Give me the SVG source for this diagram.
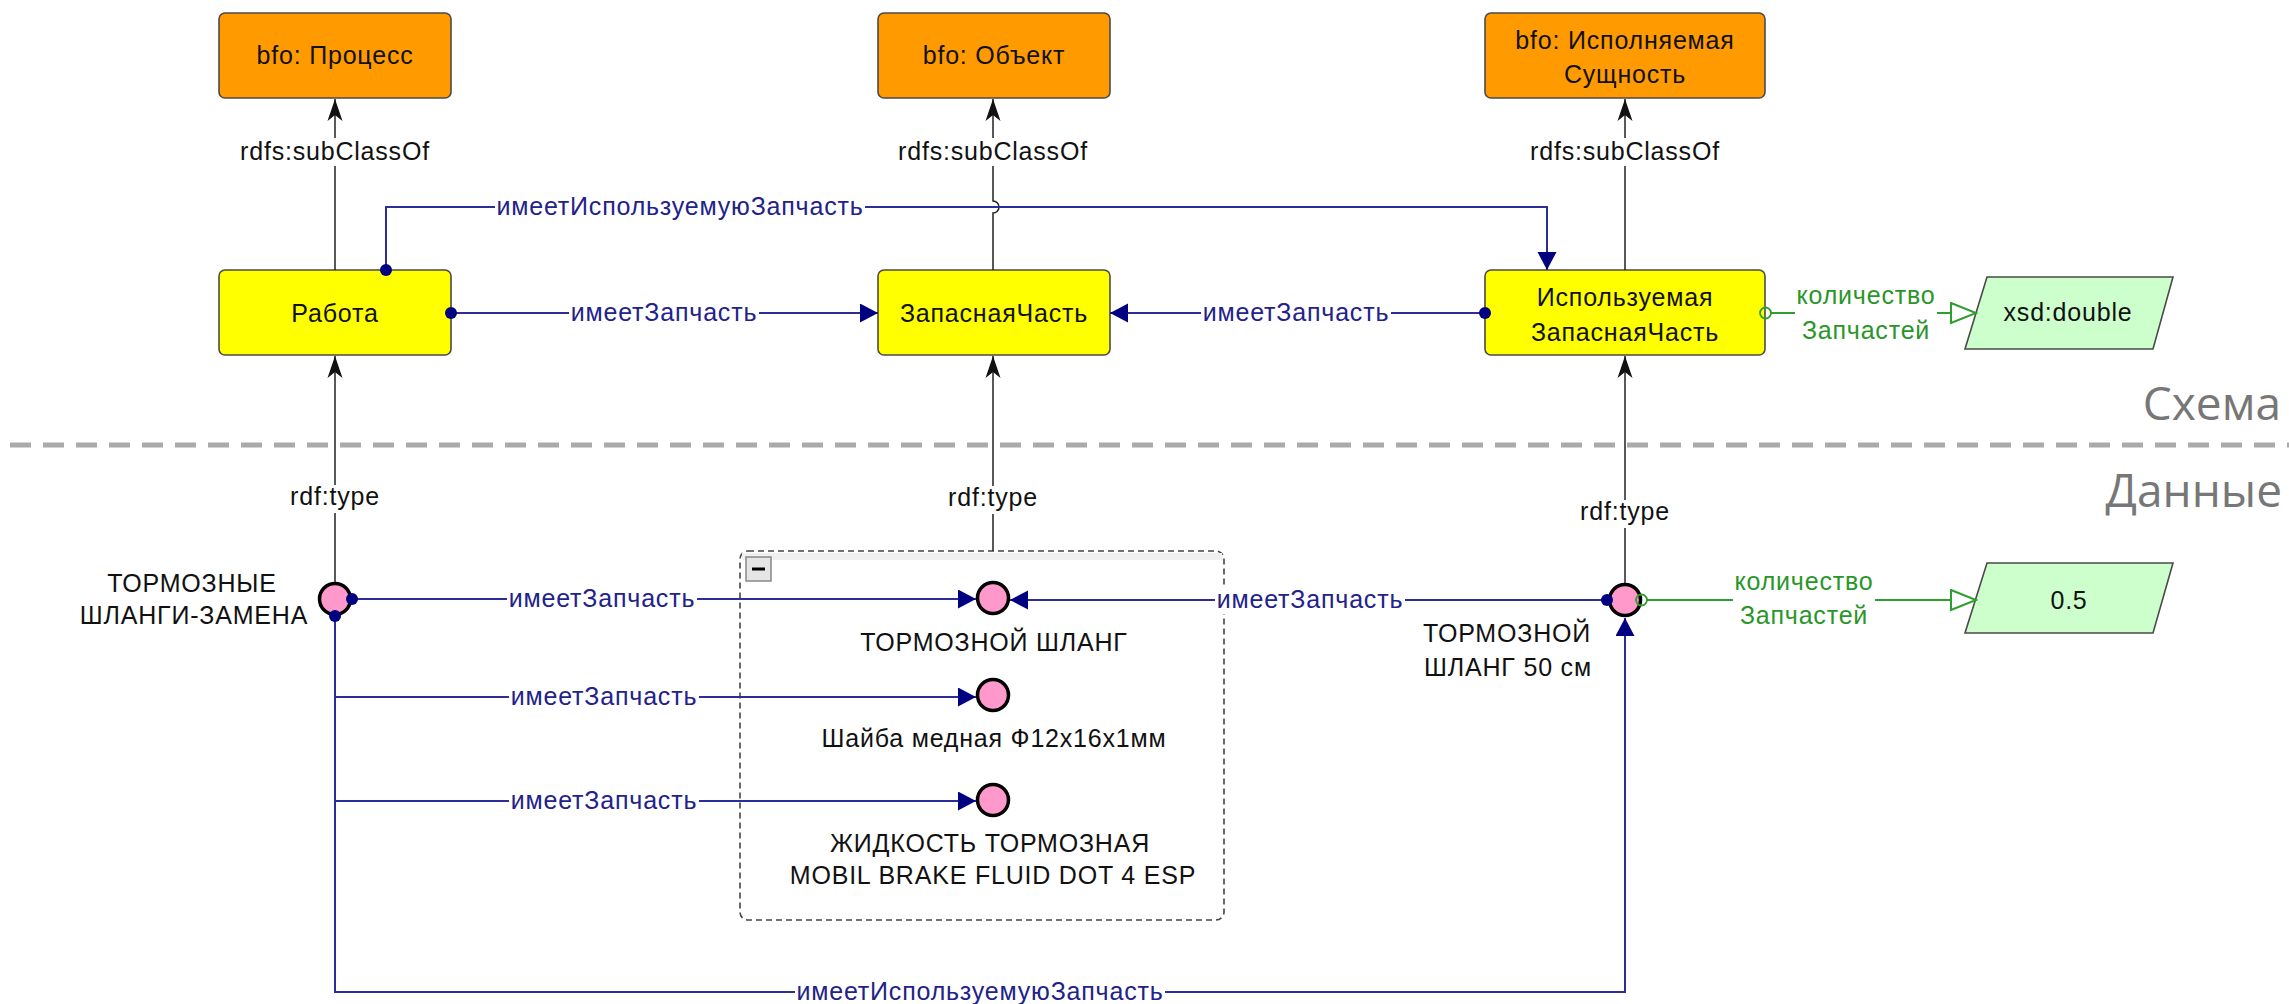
<svg xmlns="http://www.w3.org/2000/svg" width="2289" height="1004" viewBox="0 0 2289 1004">
<style>
text { font-family: "Liberation Sans", Arial, sans-serif; font-size: 25px; letter-spacing: 0.8px; }
.c { text-anchor: middle; }
.k { fill: #111111; }
.b { fill: #22228a; }
.g { fill: #2a962a; }
.orange { fill: #FF9A00; stroke: #4a4a4a; stroke-width: 1.6; }
.yellow { fill: #FFFF00; stroke: #4a4a4a; stroke-width: 1.6; }
.lit { fill: #CCFFCC; stroke: #4a4a4a; stroke-width: 1.6; }
.ind { fill: #FF99CC; stroke: #000000; stroke-width: 3.5; }
.lb { fill: #ffffff; }
.sub { fill: none; stroke: #222222; stroke-width: 1.5; marker-end: url(#stl); }
.obj { fill: none; stroke: #2d2d99; stroke-width: 2; }
.dat { fill: none; stroke: #2e9e2e; stroke-width: 2; marker-start: url(#ocirc); marker-end: url(#otri); }
.sep { font-family: "Open Sans", "Liberation Sans", sans-serif; font-size: 46px; fill: #777777; text-anchor: end; letter-spacing: 0; }
.grp { fill: #ffffff; stroke: #444444; stroke-width: 1.6; stroke-dasharray: 6 4; }
</style>
<defs>
<marker id="dot" markerUnits="userSpaceOnUse" markerWidth="14" markerHeight="14" refX="7" refY="7" orient="auto"><circle cx="7" cy="7" r="6" fill="#000080"/></marker>
<marker id="tri" markerUnits="userSpaceOnUse" markerWidth="19" markerHeight="20" refX="18" refY="9.5" orient="auto"><path d="M0,0 L18,9.5 L0,19 Z" fill="#000080"/></marker>
<marker id="stl" markerUnits="userSpaceOnUse" markerWidth="23" markerHeight="17" refX="22" refY="8" orient="auto"><path d="M0,0.5 L22,8 L0,15.5 L6,8 Z" fill="#111111"/></marker>
<marker id="otri" markerUnits="userSpaceOnUse" markerWidth="28" markerHeight="24" refX="26" refY="11" orient="auto"><path d="M1,1 L26,11 L1,21 Z" fill="#ffffff" stroke="#2e9e2e" stroke-width="2"/></marker>
<marker id="ocirc" markerUnits="userSpaceOnUse" markerWidth="16" markerHeight="16" refX="13.5" refY="8" orient="auto"><circle cx="8" cy="8" r="5.5" fill="none" stroke="#2e9e2e" stroke-width="1.8"/></marker>
</defs>

<line x1="10" y1="445" x2="2289" y2="445" stroke="#aaaaaa" stroke-width="5" stroke-dasharray="21 12"/>
<text class="sep" x="2281" y="420">Схема</text>
<text class="sep" x="2282" y="507">Данные</text>

<g id="group-box">
<rect class="grp" x="740" y="551" width="484" height="369" rx="8"/>
<rect x="742" y="553" width="480" height="7" fill="#f0f0f0"/>
<rect x="746" y="557" width="25" height="24" fill="#e6e6e6" stroke="#888888" stroke-width="1.5"/>
<line x1="752" y1="569" x2="765" y2="569" stroke="#000000" stroke-width="3"/>
</g>

<g id="bfo-process">
<rect class="orange" x="219" y="13" width="232" height="85" rx="6"/>
<text class="c k" x="335" y="64">bfo: Процесс</text>
</g>
<g id="bfo-object">
<rect class="orange" x="878" y="13" width="232" height="85" rx="6"/>
<text class="c k" x="994" y="64">bfo: Объект</text>
</g>
<g id="bfo-realizable">
<rect class="orange" x="1485" y="13" width="280" height="85" rx="6"/>
<text class="c k" x="1625" y="49">bfo: Исполняемая</text>
<text class="c k" x="1625" y="83">Сущность</text>
</g>
<g id="rabota">
<rect class="yellow" x="219" y="270" width="232" height="85" rx="6"/>
<text class="c k" x="335" y="322">Работа</text>
</g>
<g id="zapasnaya-chast">
<rect class="yellow" x="878" y="270" width="232" height="85" rx="6"/>
<text class="c k" x="994" y="322">ЗапаснаяЧасть</text>
</g>
<g id="ispolzuemaya-zapasnaya-chast">
<rect class="yellow" x="1485" y="270" width="280" height="85" rx="6"/>
<text class="c k" x="1625" y="306">Используемая</text>
<text class="c k" x="1625" y="341">ЗапаснаяЧасть</text>
</g>
<g id="xsd-double">
<polygon class="lit" points="1987,277 2173,277 2153,349 1965,349"/>
<text class="c k" x="2068" y="321">xsd:double</text>
</g>

<g id="tormoznye-shlangi-zamena">
<circle class="ind" cx="335" cy="599" r="15.5"/>
<text class="c k" x="192" y="592">ТОРМОЗНЫЕ</text>
<text class="c k" x="194" y="624">ШЛАНГИ-ЗАМЕНА</text>
</g>
<g id="tormoznoy-shlang">
<circle class="ind" cx="993" cy="598" r="15.5"/>
<text class="c k" x="994" y="651">ТОРМОЗНОЙ ШЛАНГ</text>
</g>
<g id="shayba">
<circle class="ind" cx="993" cy="695" r="15.5"/>
<text class="c k" x="994" y="747">Шайба медная Ф12х16х1мм</text>
</g>
<g id="zhidkost">
<circle class="ind" cx="993" cy="800" r="15.5"/>
<text class="c k" x="990" y="852">ЖИДКОСТЬ ТОРМОЗНАЯ</text>
<text class="c k" x="993" y="884">MOBIL BRAKE FLUID DOT 4 ESP</text>
</g>
<g id="tormoznoy-shlang-50">
<circle class="ind" cx="1625" cy="600" r="15.5"/>
<text class="c k" x="1507" y="642">ТОРМОЗНОЙ</text>
<text class="c k" x="1508" y="676">ШЛАНГ 50 см</text>
</g>
<g id="value-05">
<polygon class="lit" points="1987,563 2173,563 2153,633 1965,633"/>
<text class="c k" x="2069" y="609">0.5</text>
</g>

<g id="connectors">
<path class="sub" d="M335,270 V99"/>
<path class="sub" d="M993,270 V213 A6,6 0 0 0 993,201 V99"/>
<path class="sub" d="M1625,270 V99"/>
<rect class="lb" x="238" y="138" width="194" height="28"/>
<text class="c k" x="335" y="160">rdfs:subClassOf</text>
<rect class="lb" x="896" y="138" width="194" height="28"/>
<text class="c k" x="993" y="160">rdfs:subClassOf</text>
<rect class="lb" x="1528" y="138" width="194" height="28"/>
<text class="c k" x="1625" y="160">rdfs:subClassOf</text>

<path class="obj" d="M451,313 H878" marker-start="url(#dot)" marker-end="url(#tri)"/>
<rect class="lb" x="569" y="299" width="190" height="28"/>
<text class="c b" x="664" y="321">имеетЗапчасть</text>

<path class="obj" d="M1485,313 H1110" marker-start="url(#dot)" marker-end="url(#tri)"/>
<rect class="lb" x="1201" y="299" width="190" height="28"/>
<text class="c b" x="1296" y="321">имеетЗапчасть</text>

<path class="obj" d="M386,270 V207 H1547 V270" marker-start="url(#dot)" marker-end="url(#tri)"/>
<rect class="lb" x="495" y="193" width="370" height="28"/>
<text class="c b" x="680" y="215">имеетИспользуемуюЗапчасть</text>

<path class="dat" d="M1771,313 H1976"/>
<rect class="lb" x="1795" y="281" width="142" height="64"/>
<text class="c g" x="1866" y="304">количество</text>
<text class="c g" x="1866" y="339">Запчастей</text>

<path class="sub" d="M335,582 V356"/>
<rect class="lb" x="288" y="485" width="94" height="28"/>
<text class="c k" x="335" y="505">rdf:type</text>
<path class="sub" d="M993,551 V356"/>
<rect class="lb" x="946" y="486" width="94" height="28"/>
<text class="c k" x="993" y="506">rdf:type</text>
<path class="sub" d="M1625,583 V356"/>
<rect class="lb" x="1578" y="500" width="94" height="28"/>
<text class="c k" x="1625" y="520">rdf:type</text>

<path class="obj" d="M352,599 H976" marker-start="url(#dot)" marker-end="url(#tri)"/>
<rect class="lb" x="507" y="585" width="190" height="28"/>
<text class="c b" x="602" y="607">имеетЗапчасть</text>

<path class="obj" d="M335,616 V992 H1625 V618" marker-start="url(#dot)" marker-end="url(#tri)"/>
<rect class="lb" x="795" y="978" width="370" height="26"/>
<text class="c b" x="980" y="1000">имеетИспользуемуюЗапчасть</text>

<path class="obj" d="M335,697 H976" marker-end="url(#tri)"/>
<rect class="lb" x="509" y="683" width="190" height="28"/>
<text class="c b" x="604" y="705">имеетЗапчасть</text>

<path class="obj" d="M335,801 H976" marker-end="url(#tri)"/>
<rect class="lb" x="509" y="787" width="190" height="28"/>
<text class="c b" x="604" y="809">имеетЗапчасть</text>

<path class="obj" d="M1607,600 H1010" marker-start="url(#dot)" marker-end="url(#tri)"/>
<rect class="lb" x="1215" y="586" width="190" height="28"/>
<text class="c b" x="1310" y="608">имеетЗапчасть</text>

<path class="dat" d="M1647,600 H1976"/>
<rect class="lb" x="1733" y="568" width="142" height="64"/>
<text class="c g" x="1804" y="590">количество</text>
<text class="c g" x="1804" y="624">Запчастей</text>
</g>
</svg>
